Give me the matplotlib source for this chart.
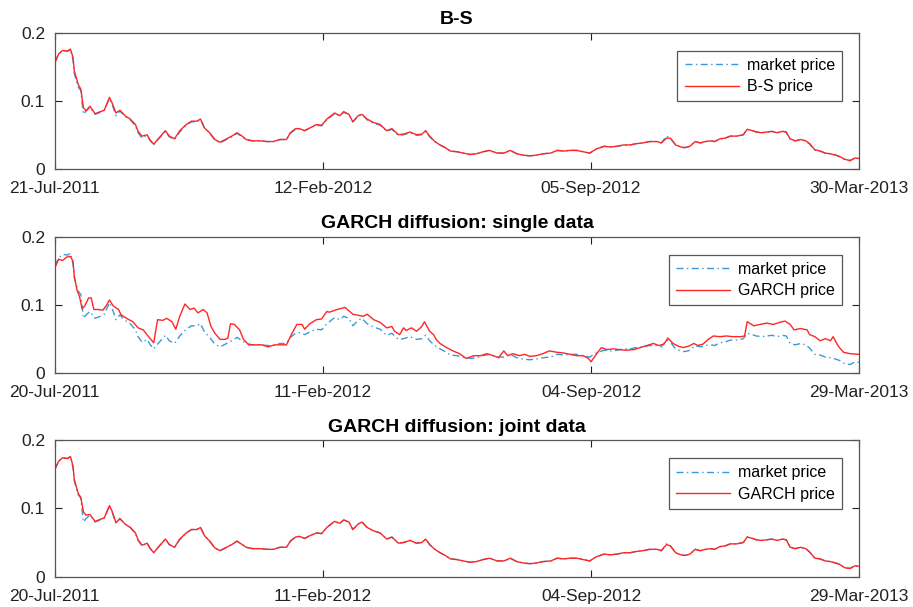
import numpy as np
import matplotlib
matplotlib.use("Agg")
import matplotlib.pyplot as plt
import matplotlib.dates as mdates

plt.rcParams['font.family'] = ['Liberation Sans', 'DejaVu Sans']

# dias desde o inicio de cada painel
dias = [0, 3, 6, 10, 12, 14, 15, 18, 20, 22, 24, 27, 31, 35, 38, 42, 44, 47, 50, 54,
        58, 62, 64, 67, 71, 73, 76, 79, 85, 88, 92, 96, 101, 105, 109, 112, 115, 119, 123, 127,
        131, 136, 140, 144, 147, 152, 158, 163, 168, 173, 178, 181, 185, 188, 192, 196, 201, 205, 209, 215,
        219, 222, 226, 229, 233, 236, 240, 245, 250, 255, 259, 264, 268, 273, 278, 282, 285, 288, 292, 296,
        300, 304, 309, 314, 319, 324, 329, 334, 340, 345, 350, 355, 360, 365, 370, 375, 381, 386, 391, 396,
        401, 406, 411, 416, 422, 427, 432, 437, 442, 447, 452, 457, 463, 466, 470, 473, 477, 481, 484, 488,
        492, 496, 500, 504, 507, 511, 515, 519, 524, 529, 532, 536, 539, 543, 547, 551, 555, 559, 562, 565,
        569, 573, 577, 580, 584, 588, 592, 596, 600, 603, 607, 611, 615, 618]

market = [0.157, 0.169, 0.174, 0.173, 0.176, 0.160, 0.140, 0.120, 0.115, 0.080, 0.085, 0.090, 0.080, 0.083, 0.086, 0.103, 0.095, 0.078, 0.085, 0.077,
          0.072, 0.063, 0.053, 0.045, 0.049, 0.042, 0.035, 0.042, 0.055, 0.047, 0.043, 0.054, 0.064, 0.069, 0.069, 0.072, 0.060, 0.052, 0.042, 0.038,
          0.042, 0.047, 0.052, 0.047, 0.043, 0.041, 0.041, 0.040, 0.040, 0.043, 0.043, 0.052, 0.058, 0.059, 0.056, 0.060, 0.064, 0.063, 0.072, 0.081,
          0.078, 0.083, 0.080, 0.069, 0.077, 0.080, 0.072, 0.067, 0.064, 0.055, 0.058, 0.049, 0.050, 0.053, 0.049, 0.050, 0.055, 0.047, 0.040, 0.035,
          0.031, 0.026, 0.025, 0.023, 0.021, 0.022, 0.025, 0.027, 0.023, 0.023, 0.027, 0.022, 0.020, 0.019, 0.020, 0.022, 0.023, 0.027, 0.026, 0.027,
          0.027, 0.025, 0.023, 0.029, 0.033, 0.032, 0.033, 0.035, 0.035, 0.037, 0.038, 0.040, 0.040, 0.038, 0.048, 0.045, 0.035, 0.032, 0.031, 0.033,
          0.040, 0.038, 0.040, 0.041, 0.040, 0.044, 0.045, 0.048, 0.048, 0.050, 0.058, 0.056, 0.054, 0.053, 0.054, 0.055, 0.053, 0.055, 0.054, 0.043,
          0.041, 0.043, 0.041, 0.036, 0.027, 0.026, 0.023, 0.022, 0.020, 0.018, 0.013, 0.012, 0.016, 0.015]

bs_price = [0.155, 0.169, 0.174, 0.173, 0.176, 0.164, 0.144, 0.124, 0.117, 0.090, 0.085, 0.092, 0.081, 0.084, 0.086, 0.105, 0.097, 0.082, 0.086, 0.078,
            0.073, 0.065, 0.055, 0.048, 0.050, 0.043, 0.036, 0.043, 0.056, 0.048, 0.044, 0.056, 0.065, 0.070, 0.070, 0.073, 0.060, 0.053, 0.043, 0.039,
            0.043, 0.048, 0.053, 0.048, 0.043, 0.041, 0.041, 0.040, 0.040, 0.043, 0.043, 0.053, 0.059, 0.059, 0.056, 0.060, 0.065, 0.064, 0.073, 0.082,
            0.078, 0.084, 0.080, 0.069, 0.078, 0.080, 0.073, 0.068, 0.065, 0.056, 0.059, 0.050, 0.051, 0.054, 0.050, 0.051, 0.056, 0.048, 0.040, 0.035,
            0.031, 0.026, 0.025, 0.023, 0.021, 0.022, 0.025, 0.027, 0.023, 0.023, 0.027, 0.022, 0.020, 0.019, 0.020, 0.022, 0.023, 0.027, 0.026, 0.027,
            0.027, 0.025, 0.023, 0.029, 0.033, 0.032, 0.033, 0.035, 0.035, 0.037, 0.038, 0.040, 0.040, 0.038, 0.045, 0.045, 0.035, 0.032, 0.031, 0.033,
            0.040, 0.038, 0.040, 0.041, 0.040, 0.044, 0.045, 0.048, 0.048, 0.050, 0.058, 0.056, 0.054, 0.053, 0.054, 0.055, 0.053, 0.055, 0.054, 0.044,
            0.041, 0.043, 0.041, 0.037, 0.028, 0.026, 0.023, 0.022, 0.020, 0.018, 0.014, 0.012, 0.016, 0.015]

joint_price = [0.157, 0.169, 0.174, 0.173, 0.176, 0.162, 0.142, 0.122, 0.116, 0.095, 0.090, 0.091, 0.081, 0.084, 0.086, 0.104, 0.096, 0.079, 0.085, 0.077,
               0.072, 0.064, 0.054, 0.046, 0.049, 0.042, 0.035, 0.042, 0.055, 0.047, 0.043, 0.055, 0.064, 0.069, 0.069, 0.072, 0.060, 0.052, 0.042, 0.038,
               0.042, 0.047, 0.052, 0.047, 0.043, 0.041, 0.041, 0.040, 0.040, 0.043, 0.043, 0.052, 0.058, 0.059, 0.056, 0.060, 0.064, 0.063, 0.072, 0.081,
               0.078, 0.083, 0.080, 0.069, 0.077, 0.080, 0.072, 0.067, 0.064, 0.055, 0.058, 0.049, 0.050, 0.053, 0.049, 0.050, 0.055, 0.047, 0.040, 0.035,
               0.031, 0.026, 0.025, 0.023, 0.021, 0.022, 0.025, 0.027, 0.023, 0.023, 0.027, 0.022, 0.020, 0.019, 0.020, 0.022, 0.023, 0.027, 0.026, 0.027,
               0.027, 0.025, 0.023, 0.029, 0.033, 0.032, 0.033, 0.035, 0.035, 0.037, 0.038, 0.040, 0.040, 0.038, 0.047, 0.045, 0.035, 0.032, 0.031, 0.033,
               0.040, 0.038, 0.040, 0.041, 0.040, 0.044, 0.045, 0.048, 0.048, 0.050, 0.058, 0.056, 0.054, 0.053, 0.054, 0.055, 0.053, 0.055, 0.054, 0.043,
               0.041, 0.043, 0.041, 0.036, 0.027, 0.026, 0.023, 0.022, 0.020, 0.018, 0.013, 0.012, 0.016, 0.015]

# GARCH com dados simples (painel do meio)
dias_g = [0, 3, 6, 9, 12, 14, 15, 17, 19, 21, 23, 26, 28, 30, 33, 37, 40, 42, 45, 49,
          51, 56, 60, 64, 68, 72, 76, 79, 83, 86, 90, 93, 96, 100, 104, 107, 110, 114, 117, 120,
          123, 127, 131, 133, 135, 138, 142, 145, 149, 154, 159, 164, 169, 174, 178, 182, 186, 190, 192, 196,
          201, 205, 209, 211, 217, 223, 229, 237, 240, 245, 250, 255, 259, 261, 265, 268, 270, 274, 278, 282,
          284, 288, 291, 293, 296, 301, 306, 311, 316, 322, 327, 332, 337, 341, 345, 348, 352, 357, 361, 365,
          370, 375, 380, 386, 391, 396, 401, 406, 410, 412, 416, 420, 424, 429, 434, 439, 445, 450, 455, 460,
          464, 468, 471, 475, 479, 483, 487, 491, 494, 498, 502, 506, 511, 516, 521, 527, 530, 532, 537, 542,
          547, 552, 557, 561, 565, 568, 573, 578, 580, 584, 588, 592, 596, 598, 602, 606, 611, 618]

garch_single = [0.154, 0.167, 0.165, 0.170, 0.171, 0.164, 0.142, 0.122, 0.112, 0.094, 0.098, 0.110, 0.110, 0.093, 0.093, 0.092, 0.100, 0.107, 0.098, 0.093,
                0.085, 0.079, 0.075, 0.066, 0.063, 0.053, 0.044, 0.078, 0.077, 0.080, 0.075, 0.064, 0.083, 0.101, 0.093, 0.095, 0.088, 0.093, 0.088, 0.068,
                0.058, 0.049, 0.049, 0.051, 0.072, 0.071, 0.063, 0.049, 0.041, 0.041, 0.041, 0.038, 0.041, 0.041, 0.041, 0.057, 0.071, 0.071, 0.064, 0.072,
                0.078, 0.079, 0.090, 0.089, 0.093, 0.096, 0.086, 0.083, 0.086, 0.078, 0.074, 0.066, 0.068, 0.061, 0.056, 0.066, 0.062, 0.066, 0.061, 0.068,
                0.075, 0.061, 0.056, 0.049, 0.043, 0.037, 0.032, 0.028, 0.021, 0.025, 0.025, 0.028, 0.025, 0.022, 0.032, 0.025, 0.028, 0.025, 0.027, 0.024,
                0.025, 0.028, 0.032, 0.030, 0.029, 0.027, 0.025, 0.025, 0.021, 0.016, 0.027, 0.037, 0.034, 0.035, 0.034, 0.033, 0.034, 0.037, 0.040, 0.043,
                0.040, 0.042, 0.051, 0.043, 0.039, 0.037, 0.039, 0.043, 0.040, 0.042, 0.049, 0.054, 0.053, 0.054, 0.053, 0.053, 0.054, 0.075, 0.069, 0.071,
                0.073, 0.071, 0.074, 0.076, 0.071, 0.063, 0.065, 0.063, 0.056, 0.053, 0.047, 0.050, 0.047, 0.053, 0.039, 0.030, 0.028, 0.027]

titulos = ["B-S", "GARCH diffusion: single data", "GARCH diffusion: joint data"]
inicios = ["2011-07-21", "2011-07-20", "2011-07-20"]
nomes = ["B-S price", "GARCH price", "GARCH price"]

azul = "#3a9ad9"
vermelho = "#ff2626"

fig = plt.figure(figsize=(9.13, 6.07), dpi=100)
posicoes = [[0.060, 0.722, 0.881, 0.224],
            [0.060, 0.386, 0.881, 0.224],
            [0.060, 0.050, 0.881, 0.225]]

for i in range(3):
    ax = fig.add_axes(posicoes[i])
    ini = np.datetime64(inicios[i])
    datas_m = ini + np.array(dias, dtype="timedelta64[D]")
    if i == 0:
        modelo_d, modelo_v = datas_m, bs_price
    elif i == 1:
        modelo_d, modelo_v = ini + np.array(dias_g, dtype="timedelta64[D]"), garch_single
    else:
        modelo_d, modelo_v = datas_m, joint_price
    ax.plot(datas_m, market, color=azul, linestyle=(0, (5, 2.5, 1, 2.5)), linewidth=1.0, label="market price")
    ax.plot(modelo_d, modelo_v, color=vermelho, linewidth=1.0, label=nomes[i])
    fim = ini + np.timedelta64(618, "D")
    ax.set_xlim(ini, fim)
    ax.set_ylim(0, 0.2)
    ax.set_yticks([0, 0.1, 0.2])
    ax.set_yticklabels(["0", "0.1", "0.2"])
    ticks = [ini + np.timedelta64(206 * k, "D") for k in range(4)]
    ax.set_xticks(ticks)
    ax.xaxis.set_major_formatter(mdates.DateFormatter("%d-%b-%Y"))
    ax.tick_params(direction="in", top=True, right=True, length=5, labelsize=12.5, colors="#222222")
    ax.tick_params(axis="x", pad=9)
    ax.tick_params(axis="y", pad=7)
    for s in ax.spines.values():
        s.set_color("#555555")
        s.set_linewidth(0.9)
    ax.set_title(titulos[i], fontsize=14, fontweight="bold", pad=6)
    leg = ax.legend(loc="upper right", bbox_to_anchor=(0.979, 0.868), borderaxespad=0, fancybox=False,
                    framealpha=1, edgecolor="#555555", fontsize=11.5, handlelength=3.4, handletextpad=0.5,
                    borderpad=0.45, labelspacing=0.4)
    leg.get_frame().set_linewidth(0.9)

fig.savefig("out.png", dpi=100)
